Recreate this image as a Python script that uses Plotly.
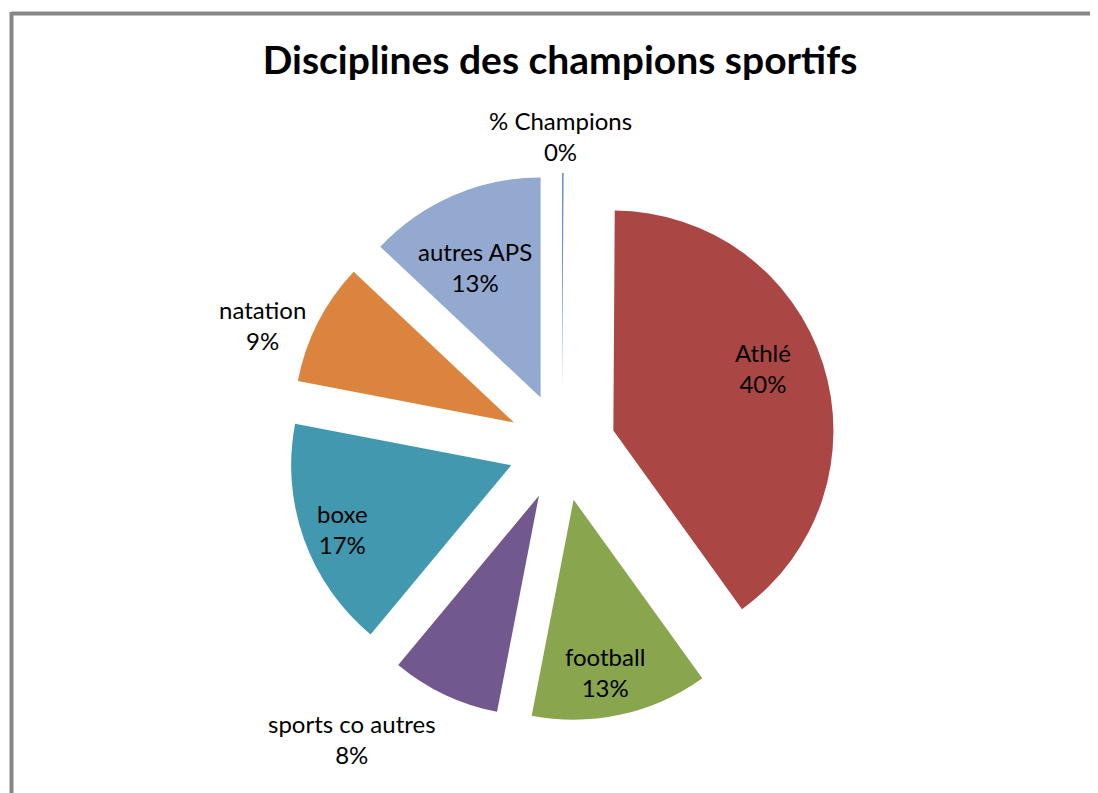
import plotly.graph_objects as go

# slices, clockwise from 12 o'clock
disciplines = ["% Champions", "Athlé", "football", "sports co autres", "boxe", "natation", "autres APS"]
pourcentages = [0.1, 40, 13, 8, 17, 9, 13]
couleurs = ["#4A7EBB", "#AA4643", "#89A54E", "#71588F", "#4198AF", "#DB843D", "#93A9CF"]

# label centres in page pixels (Excel "best fit" placement)
pos_labels = [(560, 136), (763, 368), (605, 672), (352, 739), (342, 529), (262, 325), (475, 267)]

W, H = 1098, 793
OFF = 8  # body margin of the page
cx, cy, half = 554, 439, 274

fig = go.Figure(
    go.Pie(
        labels=disciplines,
        values=pourcentages,
        sort=False,
        direction="clockwise",
        rotation=0,
        pull=0.245,
        marker=dict(colors=couleurs, line=dict(width=0)),
        textinfo="none",
        hoverinfo="label+percent",
        showlegend=False,
        automargin=False,
        domain=dict(
            x=[(cx - half) / W, (cx + half) / W],
            y=[1 - (cy + half) / H, 1 - (cy - half) / H],
        ),
    )
)

total = sum(pourcentages)
annotations = []
for lab, val, (sx, sy) in zip(disciplines, pourcentages, pos_labels):
    annotations.append(dict(
        xref="paper", yref="paper",
        x=(sx - OFF) / W, y=1 - (sy - OFF) / H,
        xanchor="center", yanchor="middle",
        text=f"{lab}<br>{round(val / total * 100)}%",
        showarrow=False,
        font=dict(family="Lato", size=24, color="black"),
    ))

fig.update_layout(
    width=W,
    height=H,
    margin=dict(l=0, r=0, t=0, b=0, autoexpand=False),
    paper_bgcolor="white",
    showlegend=False,
    title=dict(
        text="<b>Disciplines des champions sportifs</b>",
        x=(560 - OFF) / W,
        xanchor="center",
        y=1 - (60 - OFF) / H,
        yanchor="middle",
        font=dict(family="Lato", size=39, color="black"),
    ),
    annotations=annotations,
    shapes=[
        dict(type="line", xref="paper", yref="paper",
             x0=3.5 / W, x1=1.05, y0=1 - 5.5 / H, y1=1 - 5.5 / H,
             line=dict(color="#878787", width=4)),
        dict(type="line", xref="paper", yref="paper",
             x0=3.5 / W, x1=3.5 / W, y0=1 - 4 / H, y1=-0.05,
             line=dict(color="#878787", width=4)),
    ],
)

fig.write_html("out.html")
